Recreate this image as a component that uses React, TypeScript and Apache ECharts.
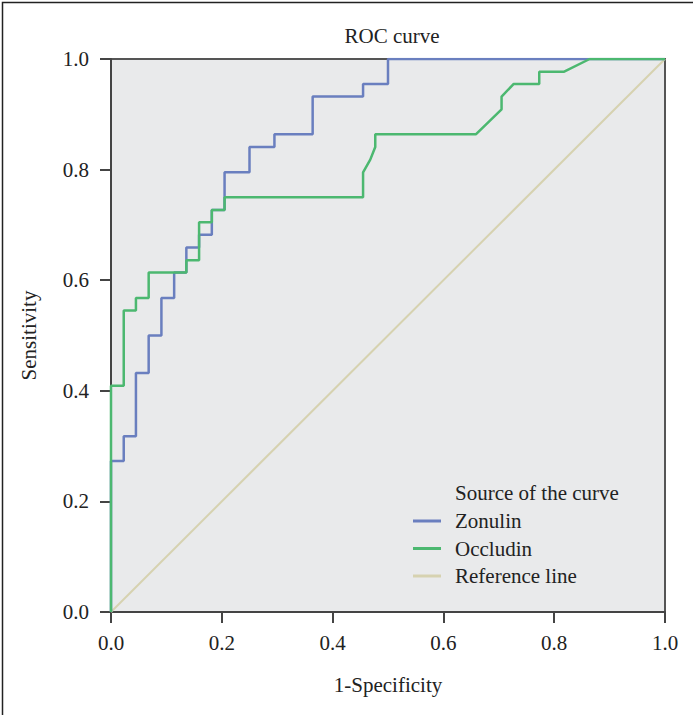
import React, { useEffect, useRef } from "react";
import * as echarts from "echarts";

// ROC step points: [1-Specificity, Sensitivity]
const zonulinFpr = [0, 0, 0.023, 0.023, 0.045, 0.045, 0.068, 0.068, 0.091, 0.091, 0.114, 0.114, 0.136, 0.136, 0.159, 0.159, 0.182, 0.182, 0.205, 0.205, 0.25, 0.25, 0.295, 0.295, 0.364, 0.364, 0.455, 0.455, 0.5, 0.5, 1];
const zonulinTpr = [0, 0.273, 0.273, 0.318, 0.318, 0.432, 0.432, 0.5, 0.5, 0.568, 0.568, 0.614, 0.614, 0.659, 0.659, 0.682, 0.682, 0.727, 0.727, 0.795, 0.795, 0.841, 0.841, 0.864, 0.864, 0.932, 0.932, 0.955, 0.955, 1, 1];

const occludinFpr = [0, 0, 0.023, 0.023, 0.045, 0.045, 0.068, 0.068, 0.136, 0.136, 0.159, 0.159, 0.182, 0.182, 0.205, 0.205, 0.455, 0.455, 0.468, 0.477, 0.477, 0.659, 0.705, 0.705, 0.727, 0.773, 0.773, 0.818, 0.864, 1];
const occludinTpr = [0, 0.409, 0.409, 0.545, 0.545, 0.568, 0.568, 0.614, 0.614, 0.636, 0.636, 0.705, 0.705, 0.727, 0.727, 0.75, 0.75, 0.795, 0.818, 0.841, 0.864, 0.864, 0.909, 0.932, 0.955, 0.955, 0.977, 0.977, 1, 1];

const referenceFpr = [0, 1];
const referenceTpr = [0, 1];

const seriesNames = ["Zonulin", "Occludin", "Reference line"];
const tickValues = [0, 0.2, 0.4, 0.6, 0.8, 1.0];

const zip = (xs: number[], ys: number[]) => xs.map((x, i) => [x, ys[i]]);

const FONT = "'Liberation Serif', 'DejaVu Serif', serif";
const FS = 21;

export default function App() {
  const ref = useRef<HTMLDivElement>(null);
  useEffect(() => {
    if (!ref.current) return;
    const chart = echarts.init(ref.current, null, { renderer: "svg" });
    const axisCommon = {
      type: "value" as const,
      min: tickValues[0],
      max: tickValues[tickValues.length - 1],
      interval: 0.2,
      nameLocation: "middle" as const,
      nameTextStyle: { fontFamily: FONT, fontSize: FS, color: "#222" },
      axisLine: { show: true, lineStyle: { color: "#444", width: 2 } },
      axisTick: { show: true, inside: false, length: 11, lineStyle: { color: "#444", width: 2 } },
      splitLine: { show: false },
    };
    const labelCommon = {
      fontFamily: FONT,
      fontSize: FS,
      color: "#222",
      formatter: (v: number) => v.toFixed(1),
    };
    chart.setOption({
      animation: false,
      title: {
        text: "ROC curve",
        left: 387,
        top: 20,
        textAlign: "center",
        textStyle: { fontFamily: FONT, fontSize: FS, fontWeight: "normal", color: "#222" },
      },
      grid: {
        left: 111,
        top: 59,
        right: 28,
        bottom: 103,
        show: true,
        backgroundColor: "#e9eaeb",
        borderColor: "#555",
        borderWidth: 2,
      },
      xAxis: { ...axisCommon, name: "1-Specificity", nameGap: 62, axisLabel: { ...labelCommon, margin: 20 } },
      yAxis: { ...axisCommon, name: "Sensitivity", nameGap: 72, axisLabel: { ...labelCommon, margin: 22 } },
      legend: {
        orient: "vertical",
        left: 413,
        top: 509,
        padding: 0,
        data: seriesNames,
        icon: "rect",
        itemWidth: 28,
        itemHeight: 3,
        itemGap: 3.5,
        textStyle: { fontFamily: FONT, fontSize: FS, color: "#222", lineHeight: 24, padding: [0, 0, 0, 9] },
      },
      graphic: [
        {
          type: "text",
          left: 455,
          top: 482,
          style: { text: "Source of the curve", font: `${FS}px ${FONT}`, fill: "#222" },
        },
        {
          type: "rect",
          left: 0,
          top: 0,
          shape: { x: 0.5, y: 0.5, width: 692, height: 714 },
          style: { fill: "none", stroke: "#222", lineWidth: 1.5 },
          silent: true,
        },
      ],
      series: [
        {
          name: "Reference line",
          type: "line",
          data: zip(referenceFpr, referenceTpr),
          showSymbol: false,
          lineStyle: { color: "#d6d2b0", width: 2 },
          itemStyle: { color: "#d6d2b0" },
          z: 1,
        },
        {
          name: "Zonulin",
          type: "line",
          data: zip(zonulinFpr, zonulinTpr),
          showSymbol: false,
          lineStyle: { color: "#6a7fbf", width: 2.5 },
          itemStyle: { color: "#6a7fbf" },
          z: 2,
        },
        {
          name: "Occludin",
          type: "line",
          data: zip(occludinFpr, occludinTpr),
          showSymbol: false,
          lineStyle: { color: "#4cb870", width: 2.5 },
          itemStyle: { color: "#4cb870" },
          z: 3,
        },
      ],
    });
    return () => chart.dispose();
  }, []);
  return (
    <div
      ref={ref}
      style={{ position: "absolute", left: 0, top: 0, width: 693, height: 715, background: "#fff" }}
    />
  );
}
